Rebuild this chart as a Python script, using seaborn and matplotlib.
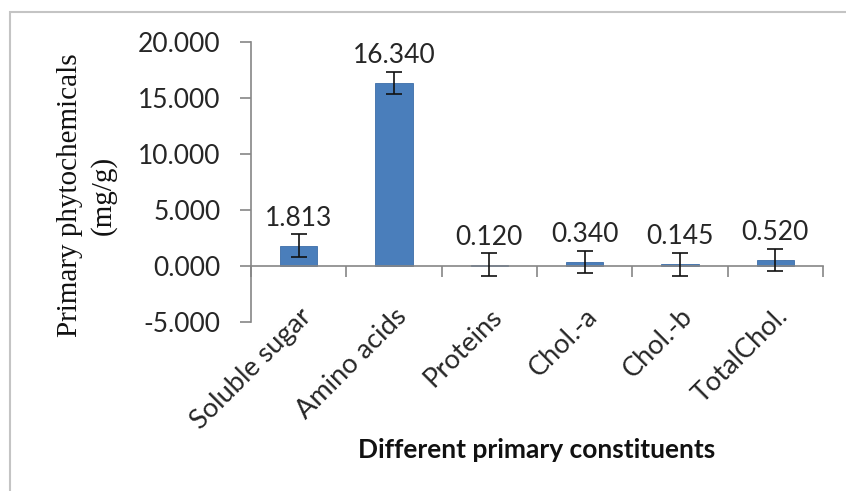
import matplotlib
matplotlib.use("Agg")
import matplotlib.pyplot as plt
from matplotlib.patches import Rectangle
from matplotlib.ticker import FixedLocator, FormatStrFormatter
import numpy as np
import pandas as pd
import seaborn as sns

# Primary constituents and their mean contents (mg/g) with error margins
categories = ["Soluble sugar", "Amino acids", "Proteins", "Chol.-a", "Chol.-b", "TotalChol."]
values = [1.813, 16.340, 0.120, 0.340, 0.145, 0.520]
errors = [1.0, 1.0, 1.0, 1.0, 1.0, 1.0]
y_ticks = [-5, 0, 5, 10, 15, 20]

df = pd.DataFrame({"constituent": categories, "content": values})

sns.set_theme(style="white")
plt.rcParams["font.family"] = ["Lato", "DejaVu Sans"]

W, H = 846, 491
fig = plt.figure(figsize=(W / 100, H / 100), dpi=100)
ax = fig.add_axes([251 / W, 1 - 322 / H, 572 / W, 280 / H])

bar_color = "#4a7ebb"
sns.barplot(data=df, x="constituent", y="content", color=bar_color,
            width=0.39, saturation=1, edgecolor="#3c6da8", linewidth=0.6, ax=ax)

xpos = np.arange(len(categories))
ax.errorbar(xpos, values, yerr=errors, fmt="none", ecolor="#111111",
            elinewidth=1.2, capsize=6, capthick=1.2, zorder=5)

text_color = "#262626"
for x, v in zip(xpos, values):
    ax.annotate(f"{v:.3f}", xy=(x, v), xytext=(0, 14.5), textcoords="offset points",
                ha="center", va="baseline", fontsize=19, color=text_color)

# Spines: vertical axis on the left, category axis through zero
for side in ("top", "right"):
    ax.spines[side].set_visible(False)
ax.spines["left"].set_color("#868686")
ax.spines["left"].set_linewidth(1.2)
ax.spines["bottom"].set_position(("data", 0))
ax.spines["bottom"].set_color("#868686")
ax.spines["bottom"].set_linewidth(1.2)
ax.set_xlabel("")
ax.set_ylabel("")
ax.patch.set_alpha(0)

# Axis scales and ticks
ax.set_xlim(-0.5, len(categories) - 0.5)
ax.set_ylim(-5, 20)
ax.yaxis.set_major_locator(FixedLocator(y_ticks))
ax.yaxis.set_major_formatter(FormatStrFormatter("%.3f"))
ax.tick_params(axis="y", which="major", direction="out", length=8, width=1.2,
               color="#868686", pad=14, labelsize=19, labelcolor=text_color, left=True)

ax.set_xticks(xpos, labels=categories)
ax.xaxis.set_minor_locator(FixedLocator(np.arange(len(categories) + 1) - 0.5))
ax.tick_params(axis="x", which="minor", direction="out", length=8, width=1.2,
               color="#868686", bottom=True)
ax.tick_params(axis="x", which="major", length=0, pad=27, labelsize=19.5,
               labelcolor=text_color)
plt.setp(ax.get_xticklabels(), rotation=45, ha="right", va="top",
         rotation_mode="anchor")

# Axis titles
fig.text(87 / W, 1 - 195 / H, "Primary phytochemicals\n(mg/g)", rotation=90,
         ha="center", va="center", multialignment="center", linespacing=1.3,
         fontsize=21, family=["Liberation Serif", "DejaVu Serif"], color="#111111")
fig.text(537 / W, 1 - 450 / H, "Different primary constituents", ha="center",
         va="center", fontsize=19, fontweight="bold", color="#111111")

# Thin frame around the chart area
fig.add_artist(Rectangle((10 / W, -0.2), 1.2, 1.2 - 12 / H, transform=fig.transFigure,
                         fill=False, edgecolor="#c4c4c4", linewidth=1.5, clip_on=False))

fig.savefig("out.png", dpi=100, facecolor="white")
